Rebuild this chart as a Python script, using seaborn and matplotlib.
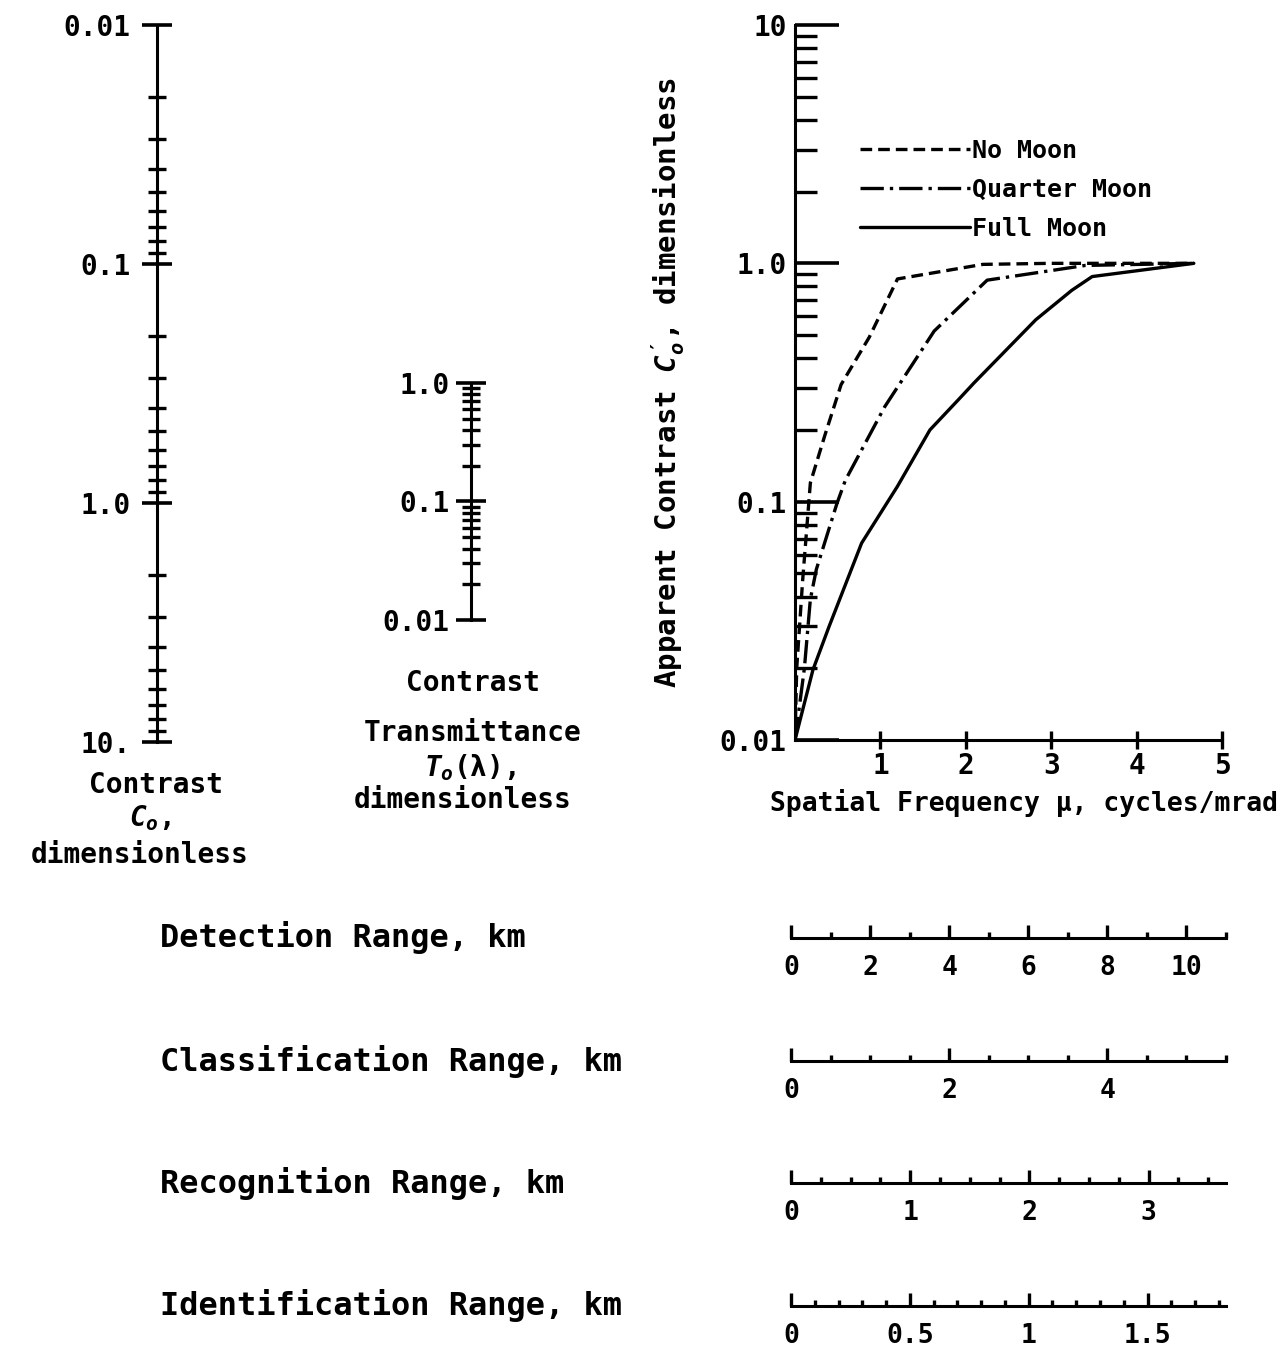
import numpy as np
import pandas as pd
import matplotlib
matplotlib.use("Agg")
import matplotlib.pyplot as plt
import seaborn as sns
from matplotlib.ticker import LogLocator, FixedLocator, MultipleLocator, NullFormatter

contrast_ticks = [0.01, 0.1, 1.0, 10.0]
contrast_labels = ["0.01", "0.1", "1.0", "10."]
transmit_ticks = [0.01, 0.1, 1.0]
transmit_labels = ["0.01", "0.1", "1.0"]

moon_levels = ["No Moon", "Quarter Moon", "Full Moon"]
freq_no_moon = [0.0, 0.02, 0.09, 0.18, 0.35, 0.54, 0.87, 1.20, 2.2, 3.0, 4.67]
con_no_moon = [0.01, 0.02, 0.047, 0.12, 0.19, 0.31, 0.49, 0.86, 0.99, 1.0, 1.0]
freq_quarter = [0.0, 0.11, 0.18, 0.25, 0.49, 0.59, 1.05, 1.63, 2.25, 3.4, 4.67]
con_quarter = [0.01, 0.020, 0.039, 0.052, 0.098, 0.123, 0.25, 0.52, 0.85, 0.98, 1.0]
freq_full = [0.0, 0.21, 0.40, 0.78, 1.2, 1.58, 1.91, 2.1, 2.82, 3.24, 3.48, 4.67]
con_full = [0.01, 0.0197, 0.030, 0.067, 0.116, 0.2, 0.267, 0.316, 0.58, 0.77, 0.88, 1.0]
freq_ticks = [1, 2, 3, 4, 5]

range_names = ["Detection Range, km", "Classification Range, km",
               "Recognition Range, km", "Identification Range, km"]
range_max = [11.0, 5.5, 3.65, 1.83]
range_major = [2, 2, 1, 0.5]
range_minor = [1, 0.5, 0.25, 0.1]
range_labels = [["0", "2", "4", "6", "8", "10"],
                ["0", "2", "4"],
                ["0", "1", "2", "3"],
                ["0", "0.5", "1", "1.5"]]

sns.set_style("white")
plt.rcParams["font.family"] = ["DejaVu Sans Mono", "DejaVu Sans"]
plt.rcParams["font.weight"] = "bold"
plt.rcParams["axes.labelweight"] = "bold"
for key in ["text.color", "axes.labelcolor", "xtick.color", "ytick.color", "axes.edgecolor"]:
    plt.rcParams[key] = "black"
plt.rcParams["mathtext.fontset"] = "custom"
plt.rcParams["mathtext.it"] = "DejaVu Sans Mono:italic:bold"
plt.rcParams["mathtext.rm"] = "DejaVu Sans Mono:bold"

W, H = 1288, 1360
fig = plt.figure(figsize=(W / 100, H / 100), dpi=100)


def fx(px):
    return px / W


def fy(py):
    return 1 - py / H


def nomo_axis(x, top, bottom, ticks, labels, invert, pad):
    ax = fig.add_axes([fx(x), fy(bottom), 0.0001, (bottom - top) / H])
    ax.set_facecolor("none")
    ax.set_yscale("log")
    if invert:
        ax.set_ylim(max(ticks), min(ticks))
    else:
        ax.set_ylim(min(ticks), max(ticks))
    for s in ["top", "right", "bottom"]:
        ax.spines[s].set_visible(False)
    ax.spines["left"].set_linewidth(2.2)
    ax.set_xticks([])
    ax.yaxis.set_major_locator(FixedLocator(ticks))
    ax.set_yticklabels(labels)
    ax.yaxis.set_minor_locator(LogLocator(base=10, subs=np.arange(2, 10)))
    ax.yaxis.set_minor_formatter(NullFormatter())
    ax.tick_params(axis="y", which="major", direction="inout", length=21,
                   width=2.6, pad=pad, labelsize=20, left=True)
    ax.tick_params(axis="y", which="minor", direction="inout", length=13,
                   width=2.4, left=True)
    return ax


nomo_axis(157, 25, 742, contrast_ticks, contrast_labels, True, 8.6)
nomo_axis(471, 383, 620, transmit_ticks, transmit_labels, False, 5)

fig.text(fx(156), fy(785), "Contrast", ha="center", va="center", fontsize=20)
fig.text(fx(150), fy(818), r"$C_o$,", ha="center", va="center", fontsize=20)
fig.text(fx(140), fy(855), "dimensionless", ha="center", va="center", fontsize=20)
fig.text(fx(473), fy(683), "Contrast", ha="center", va="center", fontsize=20)
fig.text(fx(473), fy(733), "Transmittance", ha="center", va="center", fontsize=20)
fig.text(fx(470), fy(768), r"$T_o$(λ),", ha="center", va="center", fontsize=20)
fig.text(fx(463), fy(800), "dimensionless", ha="center", va="center", fontsize=20)

# --- apparent contrast vs spatial frequency ---
curves = pd.concat([
    pd.DataFrame({"freq": freq_no_moon, "contrast": con_no_moon, "moon": "No Moon"}),
    pd.DataFrame({"freq": freq_quarter, "contrast": con_quarter, "moon": "Quarter Moon"}),
    pd.DataFrame({"freq": freq_full, "contrast": con_full, "moon": "Full Moon"}),
], ignore_index=True)

ax = fig.add_axes([fx(795), fy(740), 427 / W, 715 / H])
ax.set_yscale("log")
sns.lineplot(data=curves, x="freq", y="contrast", hue="moon", style="moon",
             hue_order=moon_levels, style_order=moon_levels,
             palette={m: "black" for m in moon_levels},
             dashes={"No Moon": (3.5, 1.8), "Quarter Moon": (7, 1.8, 1, 1.8),
                     "Full Moon": ""},
             linewidth=2.4, estimator=None, sort=False, ax=ax)
ax.set_xlim(0, 5)
ax.set_ylim(0.01, 10)
sns.despine(ax=ax)
ax.spines["left"].set_linewidth(2.2)
ax.spines["bottom"].set_linewidth(2.2)
ax.yaxis.set_major_locator(FixedLocator([0.01, 0.1, 1.0, 10.0]))
ax.set_yticklabels(["0.01", "0.1", "1.0", "10"])
ax.yaxis.set_minor_locator(LogLocator(base=10, subs=np.arange(2, 10)))
ax.yaxis.set_minor_formatter(NullFormatter())
ax.tick_params(axis="y", which="major", direction="in", length=32, width=2.6,
               pad=6, labelsize=20, left=True)
ax.tick_params(axis="y", which="minor", direction="in", length=16, width=2.4, left=True)
ax.set_xticks(freq_ticks)
ax.set_xticklabels([str(t) for t in freq_ticks])
ax.tick_params(axis="x", which="major", direction="inout", length=13, width=2.4,
               pad=2, labelsize=20, bottom=True)
ax.set_ylabel(r"Apparent Contrast $C_o'$, dimensionless", fontsize=21,
              fontweight="bold", va="center")
ax.yaxis.set_label_coords((668 - 795) / 427, 0.5)
ax.set_xlabel("Spatial Frequency μ, cycles/mrad", fontsize=19,
              fontweight="bold", va="center")
ax.xaxis.set_label_coords((1024 - 795) / 427, -(803 - 740) / 715)

handles, labels = ax.get_legend_handles_labels()
ax.legend(handles, labels, loc="upper left",
          bbox_to_anchor=((860 - 795) / 427, (740 - 139) / 715),
          frameon=False, fontsize=18, handlelength=4.4, handletextpad=0.1,
          labelspacing=0.6, borderpad=0, borderaxespad=0)

# --- range scales ---
baselines = [938, 1061, 1183, 1306]
for name, rmax, maj, mnr, labs, base in zip(range_names, range_max, range_major,
                                            range_minor, range_labels, baselines):
    rax = fig.add_axes([fx(791), fy(base), 435 / W, 0.03])
    rax.set_facecolor("none")
    rax.set_xlim(0, rmax)
    rax.set_yticks([])
    for s in ["top", "right", "left"]:
        rax.spines[s].set_visible(False)
    rax.spines["bottom"].set_linewidth(2.2)
    rax.xaxis.set_major_locator(FixedLocator(np.arange(len(labs)) * maj))
    rax.set_xticklabels(labs)
    rax.xaxis.set_minor_locator(MultipleLocator(mnr))
    rax.tick_params(axis="x", which="major", direction="in", length=9.5, width=2.4,
                    pad=12, labelsize=19, bottom=True)
    rax.tick_params(axis="x", which="minor", direction="in", length=4, width=2.4,
                    bottom=True)
    rax.text((160 - 791) / 435, 0, name, transform=rax.transAxes, ha="left",
             va="center", fontsize=23)

fig.savefig("out.png", dpi=100)
